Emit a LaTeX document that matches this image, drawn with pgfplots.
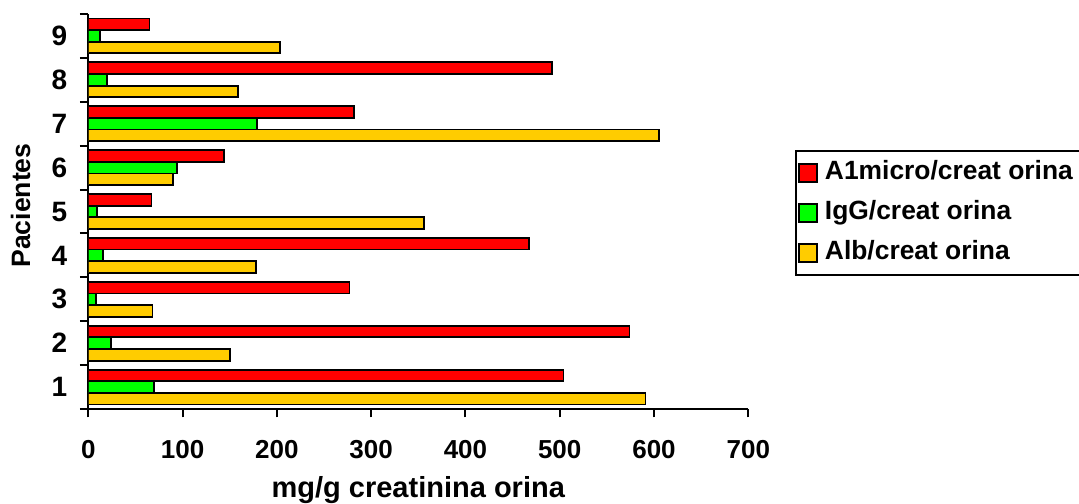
\documentclass[border=0pt]{standalone}
\usepackage{pgfplots}
\pgfplotsset{compat=1.18}
\usepackage{fontspec}
\setmainfont{Liberation Sans}
\definecolor{cred}{RGB}{255,0,0}
\definecolor{cgreen}{RGB}{0,255,0}
\definecolor{cyellow}{RGB}{255,204,0}
\begin{document}
\begin{tikzpicture}
\begin{axis}[
  scale only axis,
  width=330pt, height=197.5pt,
  xbar=0pt,
  bar width=0.265,
  xmin=0, xmax=700,
  ymin=0.5, ymax=9.5,
  axis x line*=bottom,
  axis y line*=left,
  axis line style={-, line width=1pt, black},
  tick style={line width=1pt, black},
  tick align=outside,
  major tick length=4.2pt,
  xtick={0,100,...,700},
  ytick={0.5,1.5,...,9.5},
  yticklabels={},
  extra y ticks={1,2,3,4,5,6,7,8,9},
  extra y tick labels={1,2,3,4,5,6,7,8,9},
  extra y tick style={major tick length=0pt},
  /pgf/number format/assume math mode=true,
  xticklabel style={font=\fontsize{13}{15}\selectfont\bfseries, yshift=-8pt},
  yticklabel style={font=\fontsize{14}{16}\selectfont\bfseries, xshift=-7pt},
  xlabel={mg/g creatinina orina},
  ylabel={Pacientes},
  xlabel style={font=\fontsize{14.5}{16}\selectfont\bfseries, at={(axis description cs:0.5,-0.2228)}, anchor=base},
  ylabel style={font=\fontsize{13.3}{15}\selectfont\bfseries, at={(axis description cs:-0.088,0.515)}, anchor=base},
  reverse legend,
  legend cell align=left,
  legend style={at={(axis description cs:1.071,0.656)}, anchor=north west,
    draw=black, line width=1pt, inner sep=1pt,
    font=\fontsize{13.2}{15}\selectfont\bfseries,
    nodes={inner ysep=4pt, inner xsep=3.5pt, text height=9.5pt, text depth=2.5pt},
    row sep=0pt},
  legend image code/.code={\draw[#1, line width=0.9pt] (2pt,-4.5pt) rectangle (11pt,4.5pt);},
  every axis plot/.append style={draw=black, line width=0.9pt},
]
\addplot[fill=cyellow] coordinates {(591,1) (150,2) (68,3) (178,4) (356,5) (90,6) (605,7) (159,8) (203,9)};
\addplot[fill=cgreen] coordinates {(70,1) (24,2) (8,3) (16,4) (9,5) (94,6) (179,7) (20,8) (12,9)};
\addplot[fill=cred] coordinates {(504,1) (574,2) (277,3) (467,4) (67,5) (144,6) (282,7) (492,8) (65,9)};
\legend{Alb/creat orina, IgG/creat orina, A1micro/creat orina}
\end{axis}
\pgfresetboundingbox
\path[use as bounding box] (current axis.south west) ++(-44.15pt,-47pt) rectangle ++(539.5pt,251.5pt);
\end{tikzpicture}
\end{document}
